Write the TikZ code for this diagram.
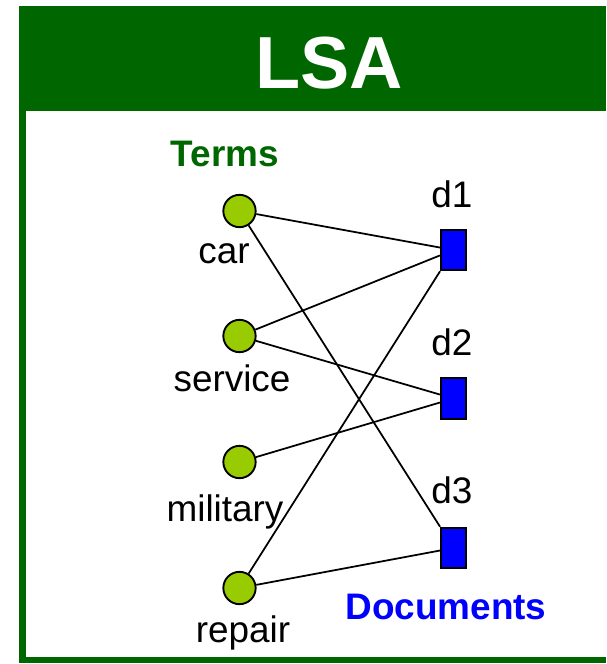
\documentclass[tikz,border=0pt]{standalone}
\usepackage{fontspec}
\setmainfont{Liberation Sans}
\usepackage{xcolor}
\usepackage{tikz}
\usetikzlibrary{positioning, calc}

\begin{document}
\begin{tikzpicture}[x=0.03cm, y=-0.03cm,
        term/.style={circle, draw=black, line width=1.6pt, fill=termgreen, minimum size=0.97cm, inner sep=0pt},
        doc/.style={rectangle, draw=black, line width=1.6pt, fill=docblue, minimum width=0.76cm, minimum height=1.22cm, inner sep=0pt},
        txt/.style={anchor=base, inner sep=0pt, font=\fontsize{31.5}{36}\selectfont},
        link/.style={line width=1.5pt, draw=black}]
        % Colours
        \definecolor{framegreen}{RGB}{0, 102, 0}
        \definecolor{termgreen}{RGB}{153, 204, 0}
        \definecolor{docblue}{RGB}{0, 0, 255}

        \useasboundingbox (0, 0) rectangle (606, 664);

        % 1. Frame with title banner
        \fill[framegreen] (19, 6) rectangle (606, 663);
        \fill[white] (26, 111) rectangle (606, 657);
        \node[txt, text=white, font=\bfseries\fontsize{63}{70}\selectfont] (title) at (329, 88) {LSA};

        % 2. Terms (circles) with their words below
        \node[txt, text=framegreen, font=\bfseries\fontsize{31.5}{36}\selectfont] (lbl_terms) at (225, 166) {Terms};
        \foreach \name/\y/\lx/\ly in {car/211/224/263, service/336/232/391, military/462/225/521, repair/588/243/642} {
            \node[term] (\name) at (239.5, \y) {};
            \node[txt] (lbl_\name) at (\lx, \ly) {\name};
        }

        % 3. Documents (rectangles) with d1..d3 above
        \foreach \name/\y/\ly in {d1/250/207, d2/398.5/355, d3/548/503} {
            \node[doc] (\name) at (453.5, \y) {};
            \node[txt] (lbl_\name) at (452, \ly) {\name};
        }
        \node[txt, text=docblue, font=\bfseries\fontsize{31.5}{36}\selectfont] (lbl_docs) at (446, 619) {Documents};

        % 4. Term-document links
        \foreach \a/\b in {car/d1, car/d3, service/d1, service/d2, military/d2, repair/d1, repair/d3} {
            \draw[link] (\a) -- (\b);
        }

    \end{tikzpicture}
\end{document}
